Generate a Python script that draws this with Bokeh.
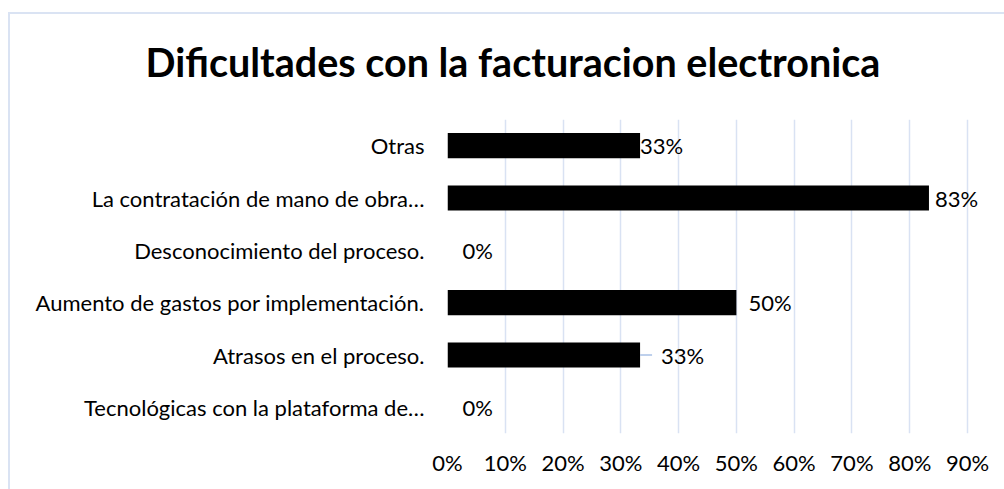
from bokeh.plotting import figure
from bokeh.models import (ColumnDataSource, FactorRange, Range1d, FixedTicker,
                          NumeralTickFormatter, LabelSet)
from bokeh.core.properties import value
from bokeh.embed import file_html
from bokeh.resources import INLINE

# ---- data ----
categories = [
    "Tecnológicas con la plataforma de…",
    "Atrasos en el proceso.",
    "Aumento de gastos por implementación.",
    "Desconocimiento del proceso.",
    "La contratación de mano de obra…",
    "Otras",
]
values = [0.0, 0.3333, 0.50, 0.0, 0.8333, 0.3333]
labels = ["0%", "33%", "50%", "0%", "83%", "33%"]
x_ticks = [0, 0.1, 0.2, 0.3, 0.4, 0.5, 0.6, 0.7, 0.8, 0.9]
x_axis_max = 0.9

# ---- styling (label offsets in screen px) ----
label_offsets = [15, 21, 12, 15, 6, 0]
FONT = "Lato"
GRID = "#d9e2f3"
BORDER = "#dae3f3"

W, H = 996, 489
MB_LEFT, MB_RIGHT, MB_TOP, MB_BOTTOM = 439, 4, 118, 56
AXIS_PX = 520          # pixel length of the 0..90% axis
frame_w = W - MB_LEFT - MB_RIGHT
px_per_unit = AXIS_PX / x_axis_max
x_end = frame_w / px_per_unit   # extra room on the right for the 83% label

src = ColumnDataSource(dict(cat=categories, val=values, lab=labels, off=label_offsets))

p = figure(width=W, height=H, y_range=FactorRange(factors=categories, range_padding=0),
           x_range=Range1d(0, x_end), output_backend="svg", toolbar_location=None,
           min_border_left=MB_LEFT, min_border_right=MB_RIGHT,
           min_border_top=MB_TOP, min_border_bottom=MB_BOTTOM,
           title="Dificultades con la facturacion electronica")

# chart-area frame (left and top edges) drawn behind a transparent canvas border
p.border_fill_color = None
p.styles = {
    "margin-left": "8px",
    "margin-top": "0px",
    "background": (f"linear-gradient({BORDER},{BORDER}) 0px 12px / 100% 2px no-repeat, "
                   f"linear-gradient({BORDER},{BORDER}) 0px 12px / 2px 100% no-repeat"),
}

p.title.text_font = FONT
p.title.text_font_size = "39.5px"
p.title.text_font_style = "bold"
p.title.text_color = "#000000"
p.title.align = "left"
p.title.offset = -302
p.title.standoff = 70

p.outline_line_color = None
p.background_fill_color = "white"

p.hbar(y="cat", right="val", left=0, height=0.48, source=src,
       fill_color="#000000", line_color=None)

# leader line for the offset label
lead = dict(x0=[values[1]], x1=[values[1] + 12 / px_per_unit], y=[categories[1]])
p.segment(x0="x0", x1="x1", y0="y", y1="y", source=ColumnDataSource(lead),
          line_color="#a9c0e6", line_width=1.5)

p.add_layout(LabelSet(x="val", y="cat", text="lab", x_offset="off", source=src,
                      text_baseline="middle", text_align="left",
                      text_font=value(FONT), text_font_size=value("22px"),
                      text_color="#000000"))

p.xgrid.ticker = FixedTicker(ticks=x_ticks)
p.xgrid.grid_line_color = GRID
p.xgrid.grid_line_width = 1.5
p.ygrid.grid_line_color = None

for ax in (p.xaxis, p.yaxis):
    ax.axis_line_color = None
    ax.major_tick_line_color = None
    ax.minor_tick_line_color = None
    ax.major_tick_out = 0
    ax.major_tick_in = 0
    ax.major_label_text_font = FONT
    ax.major_label_text_font_size = "22px"
    ax.major_label_text_color = "#000000"

p.xaxis.ticker = FixedTicker(ticks=x_ticks)
p.xaxis.formatter = NumeralTickFormatter(format="0%")
p.xaxis.major_label_standoff = 15
p.yaxis.major_label_standoff = 23

open("out.html", "w").write(file_html(p, INLINE))
